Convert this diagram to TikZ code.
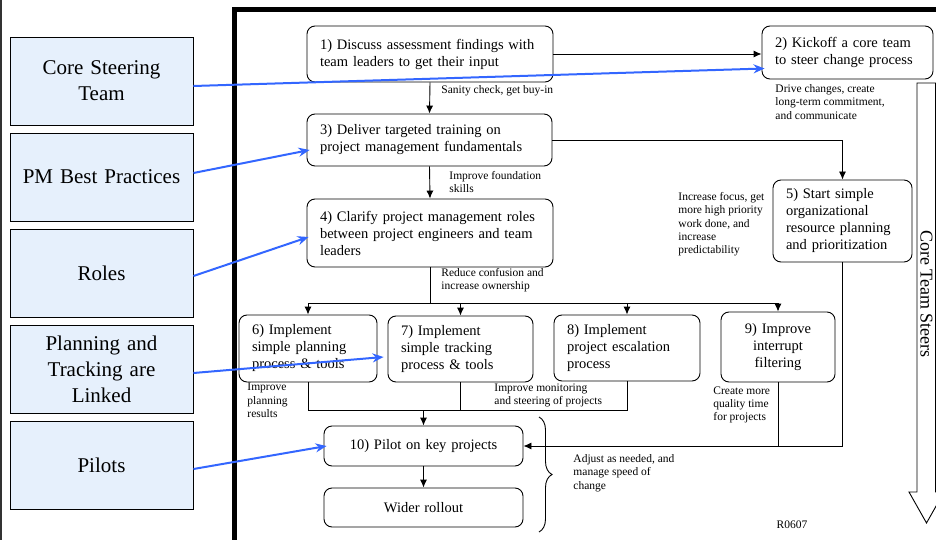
\documentclass[tikz,border=0pt]{standalone}
\usepackage{fontspec}
\setmainfont{Liberation Serif}
\usetikzlibrary{arrows.meta,decorations.pathreplacing}

\definecolor{sideblue}{HTML}{E6F0FC}
\definecolor{linkblue}{HTML}{3366FF}

\tikzset{
  >={Latex[length=8pt,width=7pt]},
  stepbox/.style={draw, rounded corners=8pt, inner xsep=13pt, inner ysep=0pt,
    font=\fontsize{14.5}{17}\selectfont},
  sidebox/.style={draw, fill=sideblue, text width=170pt, minimum width=183pt,
    minimum height=88pt, align=center, font=\fontsize{21}{26}\selectfont},
  note/.style={anchor=north west, align=left, inner sep=0pt,
    font=\fontsize{11.5}{13.3}\selectfont},
  link/.style={linkblue, line width=2pt, -{Stealth[length=11pt,width=9pt]}},
}

\begin{document}
\begin{tikzpicture}[x=1pt, y=-1pt, line width=0.9pt]

        \useasboundingbox (0,0) rectangle (936,540);
        \clip (0,0) rectangle (936,540);

        % Frame
        \draw[line width=1.2pt, black!80] (1,0) -- (1,540);
        \draw[line width=5pt] (234,550) -- (234,10) -- (950,10);

        % Topics on the left
        \node[sidebox] (core)   at (101.5,81)  {Core Steering\\Team};
        \node[sidebox] (best)   at (101.5,177) {PM Best Practices};
        \node[sidebox] (roles)  at (101.5,273) {Roles};
        \node[sidebox] (linked) at (101.5,369) {Planning and\\Tracking are\\Linked};
        \node[sidebox] (pilots) at (101.5,465) {Pilots};

        % Steps
        \node[stepbox, text width=220pt, minimum height=56pt, align=left] (discuss) at (430,54)
            {1) Discuss assessment findings with\\team leaders to get their input};
        \node[stepbox, text width=145pt, minimum height=53pt, align=left] (kickoff) at (847.5,52.5)
            {2) Kickoff a core team\\to steer change process};
        \node[stepbox, text width=219pt, minimum height=52pt, align=left] (train) at (429.5,140)
            {3) Deliver targeted training on\\project management fundamentals};
        \node[stepbox, text width=220pt, minimum height=68pt, align=left] (clarify) at (430,233)
            {4) Clarify project management roles\\between project engineers and team\\leaders};
        \node[stepbox, text width=113pt, minimum height=82pt, align=left] (resource) at (842.5,221)
            {5) Start simple\\organizational\\resource planning\\and prioritization};
        \node[stepbox, text width=112pt, minimum height=67pt, align=left] (plan) at (308,348.5)
            {6) Implement\\simple planning\\process \& tools};
        \node[stepbox, text width=119pt, minimum height=66pt, align=left] (track) at (460.5,349)
            {7) Implement\\simple tracking\\process \& tools};
        \node[stepbox, text width=120pt, minimum height=66pt, align=left] (escal) at (627,348)
            {8) Implement\\project escalation\\process};
        \node[stepbox, text width=88pt, minimum height=70pt, align=center] (filter) at (778,347)
            {9) Improve\\interrupt\\filtering};
        \node[stepbox, text width=173pt, minimum height=40pt, align=center] (pilot) at (423.5,446)
            {10) Pilot on key projects};
        \node[stepbox, text width=173pt, minimum height=39pt, align=center] (rollout) at (423.5,507.5)
            {Wider rollout};

        % Flow
        \draw[->] (discuss.east) -- (discuss.east -| kickoff.west);
        \draw[->] (discuss.south) -- (train.north);
        \draw[->] (train.south) -- (clarify.north);
        \draw[->] (train.east) -| (resource.north);

        \coordinate (split) at (430,303);
        \draw (clarify.south) -- (split);
        \draw (plan.north |- split) -- (filter.north |- split);
        \draw[->] (plan.north |- split) -- (plan.north);
        \draw[->] (track.north |- split) -- (track.north);
        \draw[->] (escal.north |- split) -- (escal.north);
        \draw[->] (filter.north |- split) -- (filter.north);

        \coordinate (merge) at (423.5,410);
        \draw (plan.south) -- (plan.south |- merge) -- (escal.south |- merge) -- (escal.south);
        \draw (track.south) -- (track.south |- merge);
        \draw[->] (merge) -- (pilot.north);
        \draw[->] (resource.south) |- (pilot.east);
        \draw (filter.south) -- (filter.south |- pilot.east);
        \draw[->] (pilot.south) -- (rollout.north);

        % Notes
        \node[note] (sanity) at (441,85) {Sanity check, get buy-in};
        \node[note] (skills) at (449,171) {Improve foundation\\skills};
        \node[note] (drive) at (775,84) {Drive changes, create\\long-term commitment,\\and communicate};
        \node[note] (focus) at (678,192) {Increase focus, get\\more high priority\\work done, and\\increase\\predictability};
        \node[note] (reduce) at (441,268) {Reduce confusion and\\increase ownership};
        \node[note] (planres) at (247,383) {Improve\\planning\\results};
        \node[note] (monitor) at (494,383) {Improve monitoring\\and steering of projects};
        \node[note] (quality) at (713,386) {Create more\\quality time\\for projects};
        \node[note] (adjust) at (573,454) {Adjust as needed, and\\manage speed of\\change};
        \node[font=\fontsize{11.5}{13.3}\selectfont] (code) at (792,525) {R0607};

        % Brace
        \draw[decorate, decoration={brace, amplitude=13pt}] (539,417) -- (539,532);

        % Core team arrow
        \draw (917,83) -- (917,492) -- (909,492) -- (926.5,523) -- (944,492)
            -- (935.5,492) -- (935.5,83) -- cycle;
        \node[rotate=-90, font=\fontsize{18}{20}\selectfont] (steers) at (926.5,294) {Core Team Steers};

        % Links from topics
        \draw[link] ([yshift=-5pt]core.east) -- ([xshift=3pt,yshift=-16pt]kickoff.west);
        \draw[link] ([yshift=4pt]best.east) -- ([xshift=3pt,yshift=-10pt]train.west);
        \draw[link] ([yshift=-3pt]roles.east) -- ([xshift=2pt,yshift=-4pt]clarify.west);
        \draw[link] ([yshift=-4pt]linked.east) -- ([xshift=-4pt,yshift=-8pt]track.west);
        \draw[link] ([yshift=-4pt]pilots.east) -- ([xshift=3pt]pilot.west);
    \end{tikzpicture}
\end{document}
